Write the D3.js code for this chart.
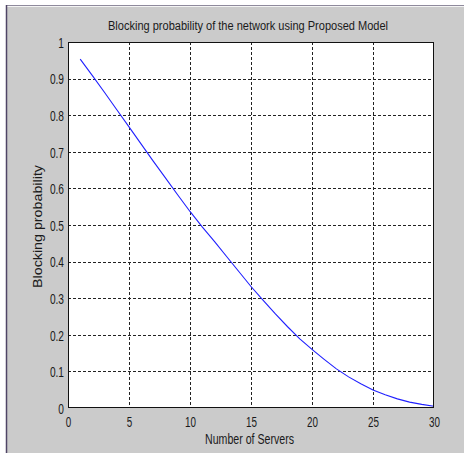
<!DOCTYPE html>
<html>
<head>
<meta charset="utf-8">
<script src="https://cdn.jsdelivr.net/npm/d3@7"></script>
<style>
  html, body { margin: 0; padding: 0; background: #ffffff; }
  svg { display: block; }
  text { font-family: "Liberation Sans", Arial, Helvetica, sans-serif; fill: #1a1a1a; }
</style>
</head>
<body>
<script>
// Blocking probability versus number of servers
const servers = [1,2,3,4,5,6,7,8,9,10,11,12,13,14,15,16,17,18,19,20,21,22,23,24,25,26,27,28,29,30];
const blocking = [0.953,0.908,0.862,0.815,0.768,0.721,0.674,0.628,0.582,0.537,
                  0.495,0.455,0.414,0.373,0.332,0.294,0.257,0.222,0.189,0.160,
                  0.133,0.107,0.085,0.066,0.049,0.036,0.025,0.016,0.010,0.005];
const xTicks = [0,5,10,15,20,25,30];
const yTicks = [0,0.1,0.2,0.3,0.4,0.5,0.6,0.7,0.8,0.9,1];
const yTickLabels = ["0","0.1","0.2","0.3","0.4","0.5","0.6","0.7","0.8","0.9","1"];
const titleText = "Blocking probability of the network using Proposed Model";
const xLabel = "Number of Servers";
const yLabel = "Blocking probability";

const W = 464, H = 453;
const plot = { left: 68, top: 42, right: 434, bottom: 408 };

const svg = d3.select("body").append("svg").attr("width", W).attr("height", H);

// figure window background with its frame edges
svg.append("rect").attr("x", 0).attr("y", 0).attr("width", W).attr("height", H).attr("fill", "#ffffff");
svg.append("rect").attr("x", 6).attr("y", 5).attr("width", W - 6).attr("height", H - 5).attr("fill", "#cbcbcb");
svg.append("line").attr("x1", 6).attr("x2", W).attr("y1", 5.5).attr("y2", 5.5).attr("stroke", "#8f8a9c").attr("stroke-width", 1);
svg.append("line").attr("x1", 7).attr("x2", W).attr("y1", 6.5).attr("y2", 6.5).attr("stroke", "#f4f4f4").attr("stroke-width", 1);
svg.append("line").attr("x1", 6.5).attr("x2", 6.5).attr("y1", 5).attr("y2", H).attr("stroke", "#4f4566").attr("stroke-width", 1.5);

const x = d3.scaleLinear().domain([0, 30]).range([plot.left, plot.right]);
const y = d3.scaleLinear().domain([0, 1]).range([plot.bottom, plot.top]);

// white axes area
svg.append("rect")
  .attr("x", plot.left).attr("y", plot.top)
  .attr("width", plot.right - plot.left).attr("height", plot.bottom - plot.top)
  .attr("fill", "#ffffff");

// dashed grid
const grid = svg.append("g").attr("stroke", "#222").attr("stroke-width", 1).attr("stroke-dasharray", "3,2");
grid.selectAll("line.vx").data(xTicks.slice(1, -1)).join("line")
  .attr("x1", d => Math.round(x(d)) + 0.5).attr("x2", d => Math.round(x(d)) + 0.5)
  .attr("y1", plot.top).attr("y2", plot.bottom);
grid.selectAll("line.hy").data(yTicks.slice(1, -1)).join("line")
  .attr("y1", d => Math.round(y(d)) + 0.5).attr("y2", d => Math.round(y(d)) + 0.5)
  .attr("x1", plot.left).attr("x2", plot.right);

// curve
const line = d3.line().x((d, i) => x(servers[i])).y(d => y(d));
svg.append("path").datum(blocking)
  .attr("d", line).attr("fill", "none")
  .attr("stroke", "#2020ff").attr("stroke-width", 1.1);

// axes box
svg.append("rect")
  .attr("x", plot.left + 0.5).attr("y", plot.top + 0.5)
  .attr("width", plot.right - plot.left - 1).attr("height", plot.bottom - plot.top - 1)
  .attr("fill", "none").attr("stroke", "#111").attr("stroke-width", 1);

// axes via d3, tick marks suppressed (labels only)
const xAxis = svg.append("g").attr("transform", `translate(0,${plot.bottom})`)
  .call(d3.axisBottom(x).tickValues(xTicks).tickSize(0).tickPadding(0).tickFormat(d3.format("d")));
const yAxis = svg.append("g").attr("transform", `translate(${plot.left},0)`)
  .call(d3.axisLeft(y).tickValues(yTicks).tickSize(0).tickPadding(0).tickFormat((d, i) => yTickLabels[i]));
[xAxis, yAxis].forEach(g => {
  g.select(".domain").remove();
  g.selectAll("text").attr("font-size", 14.5).attr("fill", "#222")
    .attr("font-family", "'Liberation Sans', Arial, sans-serif");
});
xAxis.selectAll("text").attr("dy", null).attr("y", 19);
yAxis.selectAll("text").attr("dy", null).attr("x", -4).attr("y", 5.2);

// narrow the tick glyphs
function squeeze(sel, f) {
  sel.each(function () {
    const n = this.getComputedTextLength();
    d3.select(this).attr("textLength", n * f).attr("lengthAdjust", "spacingAndGlyphs");
  });
}
squeeze(xAxis.selectAll("text"), 0.68);
squeeze(yAxis.selectAll("text"), 0.7);

// title and axis labels
svg.append("text").text(titleText)
  .attr("x", 248).attr("y", 29.5).attr("text-anchor", "middle")
  .attr("font-size", 12).attr("fill", "#222")
  .attr("textLength", 280).attr("lengthAdjust", "spacingAndGlyphs");

svg.append("text").text(xLabel)
  .attr("x", 249.5).attr("y", 444).attr("text-anchor", "middle")
  .attr("font-size", 14).attr("fill", "#222")
  .attr("textLength", 89).attr("lengthAdjust", "spacingAndGlyphs");

svg.append("text").text(yLabel)
  .attr("transform", "translate(41.5,226.5) rotate(-90)")
  .attr("text-anchor", "middle")
  .attr("font-size", 13).attr("fill", "#2a2a2a")
  .attr("textLength", 123).attr("lengthAdjust", "spacingAndGlyphs");
</script>
</body>
</html>
